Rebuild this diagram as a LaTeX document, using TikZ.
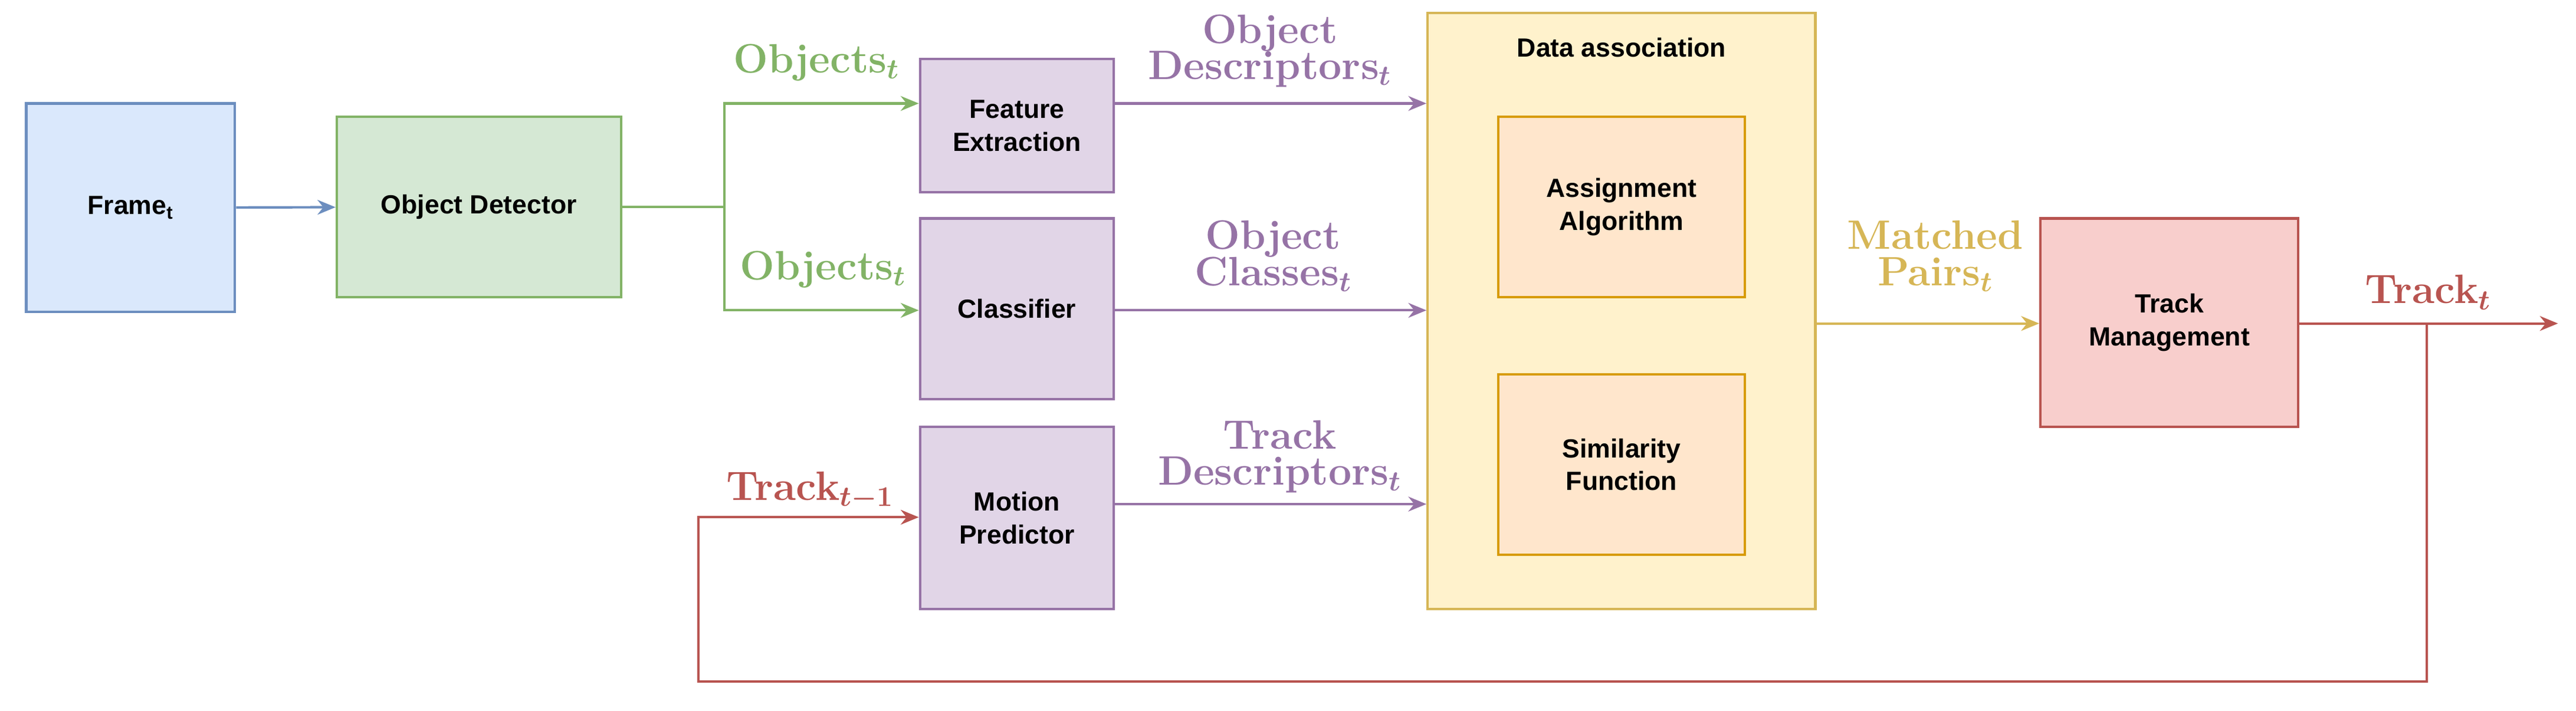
\documentclass[tikz,border=0pt]{standalone}
\usepackage{fontspec}
\newfontfamily\sansf{Liberation Sans}
\usepackage{amsmath,bm}
\usetikzlibrary{arrows.meta}
\definecolor{bF}{HTML}{DAE8FC}\definecolor{bD}{HTML}{6C8EBF}
\definecolor{gF}{HTML}{D5E8D4}\definecolor{gD}{HTML}{82B366}
\definecolor{pF}{HTML}{E1D5E7}\definecolor{pD}{HTML}{9673A6}
\definecolor{yF}{HTML}{FFF2CC}\definecolor{yD}{HTML}{D6B656}
\definecolor{oF}{HTML}{FFE6CC}\definecolor{oD}{HTML}{D79B00}
\definecolor{rF}{HTML}{F8CECC}\definecolor{rD}{HTML}{B85450}
\newcommand{\lbl}[2]{\textbf{#1}$_{\bm{#2}}$}
\begin{document}
\begin{tikzpicture}[x=1pt,y=-1pt,
 box/.style={draw,line width=1.5pt,align=center,font=\sansf\bfseries\fontsize{16}{20}\selectfont,inner sep=0pt},
 arr/.style={line width=1.5pt,-{Stealth[length=11pt,width=9pt]}},
 lab/.style={font=\fontsize{25}{24}\selectfont\bfseries\boldmath,align=center,inner sep=0pt}]
\useasboundingbox (0,0) rectangle (1568,432.7);
\node[box,draw=bD,fill=bF,minimum width=127pt,minimum height=127pt] (fr) at (79.5,126.5) {Frame\textsubscript{t}};
\node[box,draw=gD,fill=gF,minimum width=173pt,minimum height=110pt] (od) at (291.5,126) {Object Detector};
\node[box,draw=pD,fill=pF,minimum width=118pt,minimum height=81pt] (fe) at (619,76.5) {Feature\\Extraction};
\node[box,draw=pD,fill=pF,minimum width=118pt,minimum height=110pt] (cl) at (619,188) {Classifier};
\node[box,draw=pD,fill=pF,minimum width=118pt,minimum height=111pt] (mp) at (619,315.5) {Motion\\Predictor};
\node[box,draw=yD,fill=yF,minimum width=236pt,minimum height=363pt] (da) at (987,189.5) {};
\node[font=\sansf\bfseries\fontsize{16}{20}\selectfont] at (987,29) {Data association};
\node[box,draw=oD,fill=oF,minimum width=150pt,minimum height=110pt] (aa) at (987,126) {Assignment\\Algorithm};
\node[box,draw=oD,fill=oF,minimum width=150pt,minimum height=110pt] (sf) at (987,283) {Similarity\\Function};
\node[box,draw=rD,fill=rF,minimum width=157pt,minimum height=127pt] (tm) at (1320.5,196.5) {Track\\Management};
\coordinate (sp) at (441,126);
\coordinate (out) at (1557,197);
\coordinate (fb1) at (1477,197);
\coordinate (fb2) at (1477,415);
\coordinate (fb3) at (425,415);
\coordinate (fb4) at (425,315);
\draw[arr,draw=bD] (fr) -- (od);
\draw[line width=1.5pt,gD] (od.east) -- (sp);
\draw[arr,gD] (sp) |- (fe.west|-0,63);
\draw[arr,gD] (sp) |- (cl.west|-0,189);
\draw[arr,pD] (fe.east|-0,63) -- (da.west|-0,63);
\draw[arr,pD] (cl.east|-0,189) -- (da.west|-0,189);
\draw[arr,pD] (mp.east|-0,307) -- (da.west|-0,307);
\draw[arr,yD] (da.east|-0,197) -- (tm.west|-0,197);
\draw[arr,rD] (tm.east|-0,197) -- (out);
\draw[arr,rD] (fb1) -- (fb2) -- (fb3) -- (fb4) -- (mp.west|-fb4);
\node[lab,text=gD] at (497,38) {\lbl{Objects}{t}};
\node[lab,text=gD] at (501,164) {\lbl{Objects}{t}};
\node[lab,text=pD] at (773,31) {\textbf{Object}\\[-2pt]\lbl{Descriptors}{t}};
\node[lab,text=pD] at (775,156) {\textbf{Object}\\[-2pt]\lbl{Classes}{t}};
\node[lab,text=pD] at (779,278) {\textbf{Track}\\[-2pt]\lbl{Descriptors}{t}};
\node[lab,text=yD] at (1178,156) {\textbf{Matched}\\[-2pt]\lbl{Pairs}{t}};
\node[lab,text=rD] at (1478,178) {\lbl{Track}{t}};
\node[lab,text=rD] at (493,299) {\lbl{Track}{t-1}};
\end{tikzpicture}
\end{document}
